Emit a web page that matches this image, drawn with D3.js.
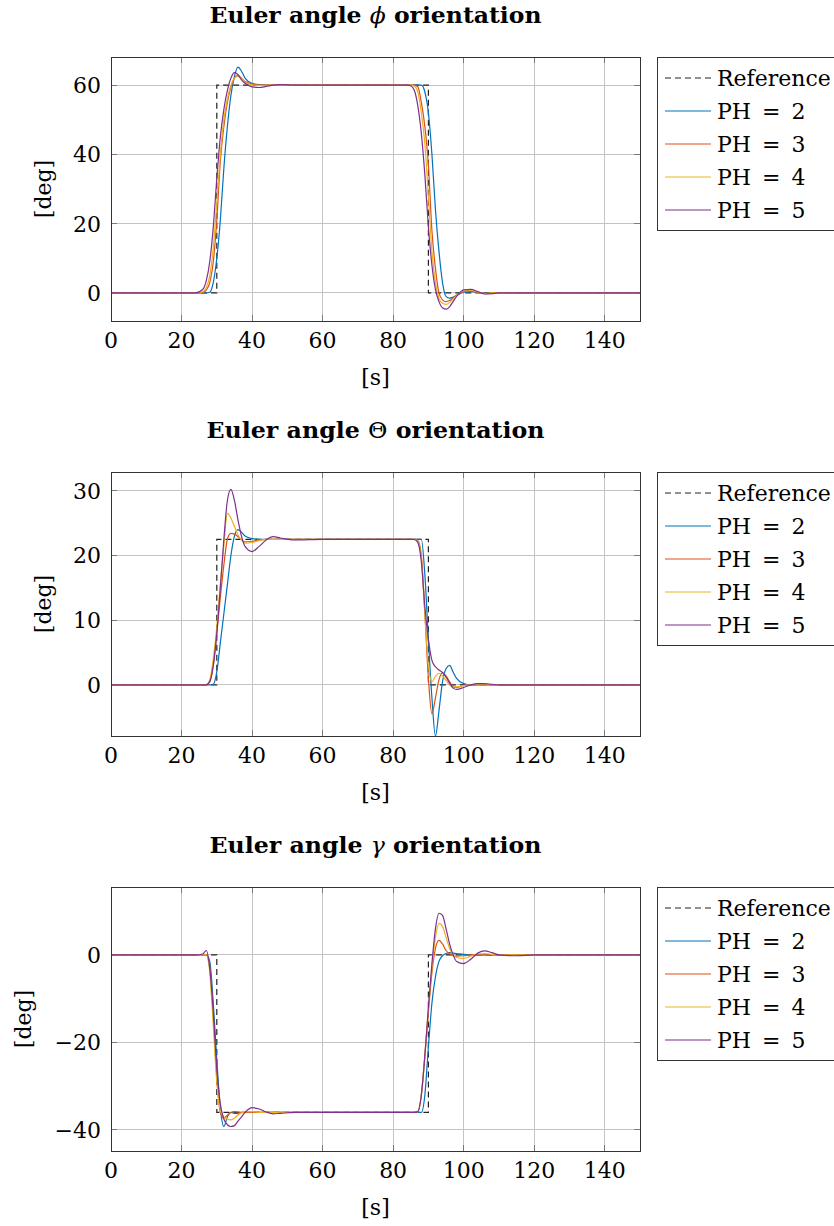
<!DOCTYPE html>
<html>
<head>
<script src="https://d3js.org/d3.v7.min.js"></script>
<style type="text/css">
  body { margin: 0; background: #fff; }
  svg text { font-family: "DejaVu Serif", serif; }
  .grid line { stroke: #c4c4c4; stroke-width: 1; shape-rendering: crispEdges; }
  .tick-mark { stroke: #7a7a7a; stroke-width: 1; shape-rendering: crispEdges; }
  .frame { fill: none; stroke: #333; stroke-width: 1; shape-rendering: crispEdges; }
  .series { fill: none; stroke-width: 1.2; }
  .ref { fill: none; stroke: #222; stroke-width: 1.2; stroke-dasharray: 6,4; }
</style>
</head>
<body>
<script type="text/javascript">
// sample times [s]
var time = [0,24,26,27,28,29,30, 31,32,33,34,35,36,37,38, 40,42,44,46,48,52,60,80,
            84,85,86,87,88,89,90, 91,92,93,94,95,96,97,98, 100,102,104,106,108,110,115,120,150];

// reference steps
var refTime = [0, 30, 30, 90, 90, 150];
var refPhi = [0, 0, 60, 60, 0, 0];
var refTheta = [0, 0, 22.5, 22.5, 0, 0];
var refGamma = [0, 0, -36, -36, 0, 0];

// Euler angle phi
var phi2 = [0,0,0,0,0.2,3,10, 21,36,48,57,62.5,65.2,64,62, 60.5,60.1,60,60,60,60,60,60,
            60,60,60,60,60,58,52, 40,24,12,3,-1,-1.5,-1.2,-0.7, 0.2,0.4,0.2,0,0,0,0,0,0];
var phi3 = [0,0,0.1,0.8,3,9,21, 38,48,55,59.5,62,62.8,62,61, 60.3,60,60,60,60,60,60,60,
            60,60,60,59.5,55,48,37, 18,7,0,-2,-2.5,-2.2,-1.5,-0.7, 0.4,0.5,0.2,-0.1,0,0,0,0,0];
var phi4 = [0,0,0.3,1.5,5,13,26, 40,50,56,60,62,62.5,61.8,60.8, 60.1,59.9,60,60,60,60,60,60,
            60,60,59.7,58,52,43,28, 12,3,-1.5,-3,-3.3,-2.8,-1.8,-0.8, 0.6,0.7,0.3,-0.2,0,0,0,0,0];
var phi5 = [0,0,1,3.5,9,19,33, 45,53,58.5,62,63.6,63,61.5,60.5, 59.5,59.3,59.6,60,60.1,60,60,60,
            60,59.8,58.5,54,46,34,19, 8,1,-2.5,-4.3,-4.7,-4,-2.5,-1, 0.9,1.0,0.4,-0.3,-0.2,0,0,0,0];

// Euler angle Theta
var theta2 = [0,0,0,0,0,0.1,2, 6.5,11,15.5,20,23,24,23.6,23, 22.6,22.5,22.5,22.5,22.5,22.5,22.5,22.5,
              22.5,22.5,22.5,22.5,22.5,17,7, -2,-7.9,-4,0.5,2.5,3,2,1, 0.2,0,0,0,0,0,0,0,0];
var theta3 = [0,0,0,0,0.5,3,8, 13.5,18.5,22.5,23.4,23.3,22.9,22.4,22.1, 22.2,22.4,22.5,22.5,22.5,22.5,22.5,22.5,
              22.5,22.5,22.5,22.3,20,11,1, -4.5,-2,0.8,1.9,1.4,0.5,-0.3,-0.4, -0.1,0,0,0,0,0,0,0,0];
var theta4 = [0,0,0,0,0.8,4,9, 15.5,21.5,26.5,25.8,24.5,23.2,22.4,21.9, 22,22.3,22.5,22.5,22.5,22.5,22.5,22.5,
              22.5,22.5,22.5,22.2,19.5,11,3, 0.5,1.3,1.8,1.4,0.7,0,-0.3,-0.3, -0.1,0,0,0,0,0,0,0,0];
var theta5 = [0,0,0,0,0.5,3,8, 15,22.5,28.5,30.2,28.5,25.5,23,21.4, 20.6,21.4,22.4,22.9,22.7,22.4,22.5,22.5,
              22.5,22.5,22.5,22,19,12,7, 3.8,2.8,2.3,1.9,1.2,0.3,-0.5,-0.7, -0.4,0,0.2,0.2,0.1,0,0,0,0];

// Euler angle gamma
var gamma2 = [0,0,0,0,-1.5,-11,-24, -35,-39.2,-37,-36,-36.2,-36.2,-36,-36, -36,-36,-36,-36,-36,-36,-36,-36,
              -36,-36,-36,-36,-36,-32,-21, -11,-5,-1.5,-0.2,0.3,0.5,0.4,0.3, 0.1,0,0,0,0,0,0,0,0];
var gamma3 = [0,0,0,0,-3,-14,-28, -36,-37.3,-36.6,-36,-35.8,-35.9,-36,-36, -36,-36,-36,-36,-36,-36,-36,-36,
              -36,-36,-36,-35.8,-32,-23,-13, -4,1.5,3.3,2.5,1,0.3,-0.2,-0.3, -0.2,0,0,0,0,0,0,0,0];
var gamma4 = [0,0,0,0,-4,-16,-29, -35.5,-37,-37.5,-37.7,-37.3,-36.6,-36.1,-35.8, -35.8,-36,-36,-36,-36,-36,-36,-36,
              -36,-36,-36,-35.8,-32,-23,-12.5, -3,4,7.2,6.5,4,1.5,0,-0.6, -0.8,-0.3,0.2,0.3,0.1,0,0,0,0];
var gamma5 = [0,0,0.2,1,-3,-13,-26, -34,-37.5,-38.8,-39.2,-39,-38,-37,-36, -34.9,-35.2,-35.9,-36.3,-36.2,-36,-36,-36,
              -36,-36,-36,-35.8,-32,-23,-12, -2,6,9.5,9,6,2.5,0,-1.5, -2,-1,0.4,0.9,0.5,0,-0.2,0,0];

var xTicks = [0, 20, 40, 60, 80, 100, 120, 140];
var phiTicks = [0, 20, 40, 60];
var thetaTicks = [0, 10, 20, 30];
var gammaTicks = [-40, -20, 0];

var legendLabels = ["Reference", "PH\u2002=\u20022", "PH\u2002=\u20023", "PH\u2002=\u20024", "PH\u2002=\u20025"];
var colors = ["#0072BD", "#D95319", "#EDB120", "#7E2F8E"];

var panels = [
  { title: ["Euler angle ", "\u03D5", " orientation"], italic: true, titleLen: 332,
    ref: refPhi, series: [phi2, phi3, phi4, phi5], ticks: phiTicks, domain: [-8.1, 68.1], top: 57, ylabX: 43 },
  { title: ["Euler angle ", "\u0398", " orientation"], italic: false, titleLen: 338,
    ref: refTheta, series: [theta2, theta3, theta4, theta5], ticks: thetaTicks, domain: [-7.9, 32.9], top: 472, ylabX: 43 },
  { title: ["Euler angle ", "\u03B3", " orientation"], italic: true, titleLen: 332,
    ref: refGamma, series: [gamma2, gamma3, gamma4, gamma5], ticks: gammaTicks, domain: [-44.8, 15.5], top: 887, ylabX: 23 }
];

var W = 834, H = 1226;
var left = 111, right = 640, ph = 264;
var fs = 22;

var svg = d3.select("body").append("svg")
  .attr("width", W)
  .attr("height", H);

var x = d3.scaleLinear().domain([0, 150]).range([left, right]);

panels.forEach(function (p, k) {
  var top = p.top, bottom = top + ph;
  var y = d3.scaleLinear().domain(p.domain).range([bottom, top]);
  var g = svg.append("g");

  // grid
  var grid = g.append("g").attr("class", "grid");
  grid.selectAll(".gx").data(xTicks.filter(function (d) { return d > 0; }))
    .enter().append("line")
    .attr("x1", function (d) { return x(d); }).attr("x2", function (d) { return x(d); })
    .attr("y1", top).attr("y2", bottom);
  grid.selectAll(".gy").data(p.ticks)
    .enter().append("line")
    .attr("x1", left).attr("x2", right)
    .attr("y1", function (d) { return y(d); }).attr("y2", function (d) { return y(d); });

  // tick marks (inside, both sides)
  xTicks.forEach(function (d) {
    g.append("line").attr("class", "tick-mark")
      .attr("x1", x(d)).attr("x2", x(d)).attr("y1", bottom).attr("y2", bottom - 6);
    g.append("line").attr("class", "tick-mark")
      .attr("x1", x(d)).attr("x2", x(d)).attr("y1", top).attr("y2", top + 6);
  });
  p.ticks.forEach(function (d) {
    g.append("line").attr("class", "tick-mark")
      .attr("x1", left).attr("x2", left + 6).attr("y1", y(d)).attr("y2", y(d));
    g.append("line").attr("class", "tick-mark")
      .attr("x1", right).attr("x2", right - 6).attr("y1", y(d)).attr("y2", y(d));
  });

  // clip
  var cid = "clip" + k;
  svg.append("clipPath").attr("id", cid)
    .append("rect").attr("x", left).attr("y", top).attr("width", right - left).attr("height", ph);

  var lines = g.append("g").attr("clip-path", "url(#" + cid + ")");

  var refLine = d3.line()
    .x(function (d, i) { return x(refTime[i]); })
    .y(function (d) { return y(d); });
  lines.append("path").attr("class", "ref").attr("d", refLine(p.ref));

  var line = d3.line()
    .x(function (d, i) { return x(time[i]); })
    .y(function (d) { return y(d); })
    .curve(d3.curveMonotoneX);
  p.series.forEach(function (s, i) {
    lines.append("path").attr("class", "series")
      .attr("stroke", colors[i])
      .attr("d", line(s));
  });

  // frame
  g.append("rect").attr("class", "frame")
    .attr("x", left).attr("y", top).attr("width", right - left).attr("height", ph);

  // tick labels
  g.selectAll(".xl").data(xTicks).enter().append("text")
    .attr("x", function (d) { return x(d); })
    .attr("y", bottom + 27)
    .attr("text-anchor", "middle")
    .style("font-size", fs + "px")
    .text(function (d) { return d; });
  g.selectAll(".yl").data(p.ticks).enter().append("text")
    .attr("x", left - 10)
    .attr("y", function (d) { return y(d) + 8; })
    .attr("text-anchor", "end")
    .style("font-size", fs + "px")
    .text(function (d) { return d < 0 ? "\u2212" + Math.abs(d) : d; });

  // axis labels
  g.append("text")
    .attr("x", (left + right) / 2)
    .attr("y", bottom + 64)
    .attr("text-anchor", "middle")
    .style("font-size", fs + "px")
    .text("[s]");
  g.append("text")
    .attr("transform", "translate(" + (p.ylabX + 8) + "," + (top + ph / 2) + ") rotate(-90)")
    .attr("text-anchor", "middle")
    .style("font-size", fs + "px")
    .text("[deg]");

  // title
  var t = g.append("text")
    .attr("x", (left + right) / 2)
    .attr("y", top - 34)
    .attr("text-anchor", "middle")
    .attr("textLength", p.titleLen)
    .attr("lengthAdjust", "spacingAndGlyphs")
    .style("font-size", fs + "px")
    .style("font-weight", "bold");
  t.append("tspan").text(p.title[0]);
  t.append("tspan").style("font-weight", "normal")
    .style("font-style", p.italic ? "italic" : "normal").text(p.title[1]);
  t.append("tspan").text(p.title[2]);

  // legend
  var lg = g.append("g");
  lg.append("rect")
    .attr("x", 657).attr("y", top).attr("width", 200).attr("height", 173)
    .attr("fill", "#fff").attr("stroke", "#333").attr("shape-rendering", "crispEdges");
  legendLabels.forEach(function (lab, i) {
    var cy = top + 21 + i * 33;
    lg.append("line")
      .attr("x1", 665).attr("x2", 711).attr("y1", cy).attr("y2", cy)
      .attr("class", i === 0 ? "ref" : "series")
      .attr("stroke", i === 0 ? "#222" : colors[i - 1]);
    lg.append("text")
      .attr("x", 717).attr("y", cy + 8)
      .style("font-size", fs + "px")
      .text(lab);
  });
});
</script>
</body>
</html>
